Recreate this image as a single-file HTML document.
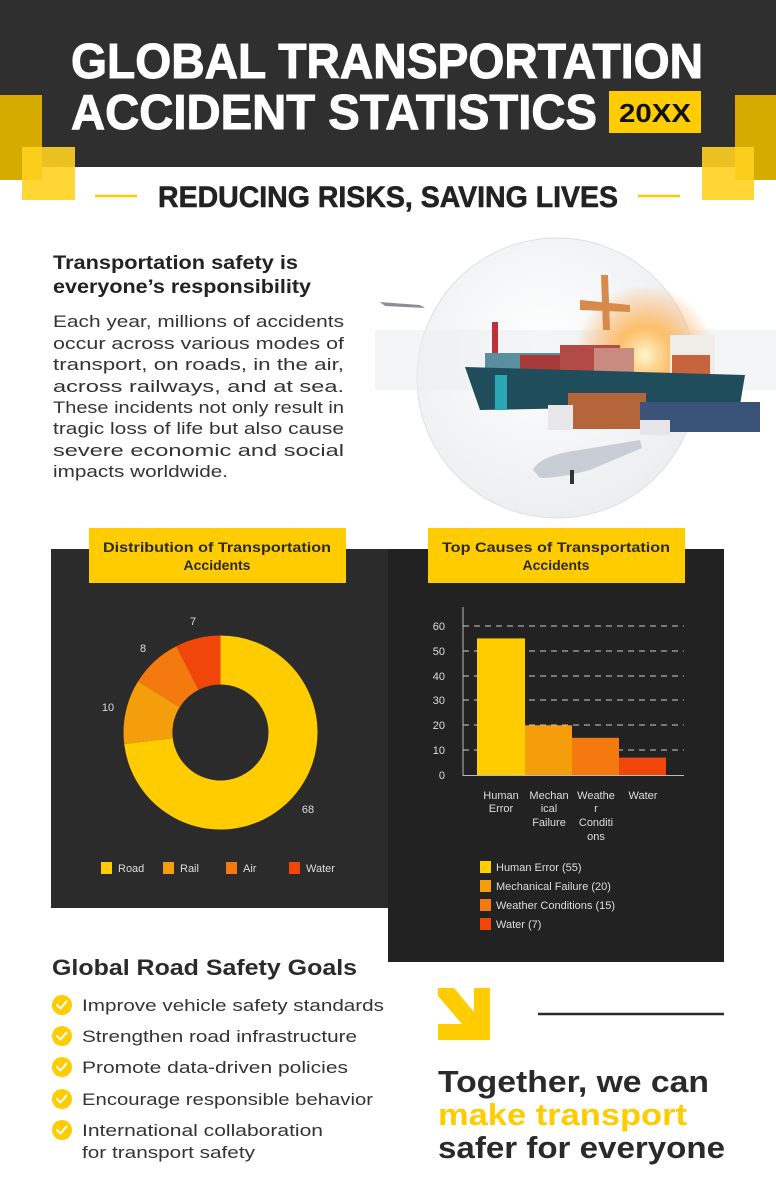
<!DOCTYPE html>
<html><head><meta charset="utf-8"><style>html,body{margin:0;padding:0;background:#fff}svg{display:block}</style></head>
<body>
<svg width="776" height="1200" viewBox="0 0 776 1200" xmlns="http://www.w3.org/2000/svg" font-family="'Liberation Sans', sans-serif">
<defs>
<radialGradient id="glow" cx="0.5" cy="0.5" r="0.5"><stop offset="0" stop-color="#fff6d0"/><stop offset="0.4" stop-color="#ffb347" stop-opacity="0.8"/><stop offset="1" stop-color="#ff9a3c" stop-opacity="0"/></radialGradient>
<radialGradient id="globe" cx="0.45" cy="0.4" r="0.6"><stop offset="0" stop-color="#ffffff"/><stop offset="1" stop-color="#eceef0"/></radialGradient>
</defs>
<rect width="776" height="1200" fill="#fff"/>
<!-- header -->
<rect x="0" y="0" width="776" height="167" fill="#2f2f2f"/>
<rect x="0" y="95" width="42" height="85" fill="#d6ab00"/>
<rect x="22" y="147" width="53" height="53" fill="#ffd21f" opacity="0.9"/>
<rect x="735" y="95" width="41" height="85" fill="#d6ab00"/>
<rect x="702" y="147" width="52" height="53" fill="#ffd21f" opacity="0.9"/>
<text x="71" y="78" font-size="49" font-weight="bold" fill="#fff" stroke="#fff" stroke-width="1" textLength="632" lengthAdjust="spacingAndGlyphs">GLOBAL TRANSPORTATION</text>
<text x="71" y="129" font-size="49" font-weight="bold" fill="#fff" stroke="#fff" stroke-width="1" textLength="526" lengthAdjust="spacingAndGlyphs">ACCIDENT STATISTICS</text>
<rect x="609" y="91" width="92" height="42" fill="#ffcc00"/>
<text x="655" y="122" font-size="26" font-weight="bold" fill="#111" text-anchor="middle" textLength="72" lengthAdjust="spacingAndGlyphs">20XX</text>
<line x1="95" y1="196" x2="137" y2="196" stroke="#ffcc00" stroke-width="2.5"/>
<line x1="638" y1="196" x2="680" y2="196" stroke="#ffcc00" stroke-width="2.5"/>
<text x="158" y="207" font-size="30" font-weight="bold" fill="#222" stroke="#222" stroke-width="0.6" textLength="460" lengthAdjust="spacingAndGlyphs">REDUCING RISKS, SAVING LIVES</text>
<!-- intro -->
<text x="53" y="269" font-size="19" font-weight="bold" fill="#222" textLength="245" lengthAdjust="spacingAndGlyphs">Transportation safety is</text>
<text x="53" y="293" font-size="19" font-weight="bold" fill="#222" textLength="258" lengthAdjust="spacingAndGlyphs">everyone’s responsibility</text>
<g font-size="17" fill="#333">
<text x="53" y="327" textLength="291" lengthAdjust="spacingAndGlyphs">Each year, millions of accidents</text>
<text x="53" y="349" textLength="291" lengthAdjust="spacingAndGlyphs">occur across various modes of</text>
<text x="53" y="370" textLength="291" lengthAdjust="spacingAndGlyphs">transport, on roads, in the air,</text>
<text x="53" y="392" textLength="291" lengthAdjust="spacingAndGlyphs">across railways, and at sea.</text>
<text x="53" y="413" textLength="291" lengthAdjust="spacingAndGlyphs">These incidents not only result in</text>
<text x="53" y="434" textLength="291" lengthAdjust="spacingAndGlyphs">tragic loss of life but also cause</text>
<text x="53" y="456" textLength="291" lengthAdjust="spacingAndGlyphs">severe economic and social</text>
<text x="53" y="477" textLength="175" lengthAdjust="spacingAndGlyphs">impacts worldwide.</text>
</g>
<!-- image -->
<circle cx="557" cy="378" r="140" fill="url(#globe)" stroke="#dde0e3"/>
<rect x="375" y="330" width="401" height="60" fill="#eceef0" opacity="0.6"/>
<circle cx="645" cy="355" r="70" fill="url(#glow)"/>
<rect x="492" y="322" width="6" height="45" fill="#c0303a"/>
<rect x="485" y="353" width="80" height="22" fill="#5a8fa0"/>
<rect x="520" y="355" width="45" height="20" fill="#a83a3a"/>
<rect x="560" y="345" width="60" height="32" fill="#b24a45"/>
<rect x="594" y="348" width="40" height="28" fill="#c98a80"/>
<rect x="670" y="335" width="45" height="45" fill="#f0ece8"/>
<rect x="672" y="355" width="38" height="25" fill="#c8643c"/>
<path d="M465,367 L745,375 L740,405 L480,410 Z" fill="#1f4d5c"/>
<rect x="495" y="375" width="12" height="35" fill="#2aa6b4"/>
<rect x="568" y="393" width="78" height="36" fill="#b5653a"/>
<rect x="548" y="405" width="25" height="25" fill="#e8e8ea"/>
<rect x="640" y="402" width="120" height="30" fill="#3a5378"/>
<rect x="640" y="420" width="30" height="15" fill="#e6e6ea"/>
<path d="M533,470 Q540,455 580,450 L640,440 L642,448 L590,470 Q560,478 540,478 Z" fill="#c9cdd6"/>
<rect x="570" y="470" width="4" height="14" fill="#333"/>
<path d="M601,275 L608,275 L610,330 L603,330 Z M580,300 L630,305 L630,312 L580,310 Z" fill="#d88a4a"/>
<path d="M380,302 L420,305 L425,308 L385,306 Z" fill="#8a8f96"/>
<!-- left panel -->
<rect x="51" y="549" width="337" height="359" fill="#2b2b2b"/>
<rect x="89" y="528" width="257" height="55" fill="#ffcc00"/>
<text x="217" y="552" font-size="14" font-weight="bold" fill="#2a2a2a" text-anchor="middle" textLength="228" lengthAdjust="spacingAndGlyphs">Distribution of Transportation</text>
<text x="217" y="570" font-size="14" font-weight="bold" fill="#2a2a2a" text-anchor="middle">Accidents</text>
<path d="M220.5,635.5 A97,97 0 1 1 124.2,744.0 L172.8,738.2 A48,48 0 1 0 220.5,684.5 Z" fill="#ffcc00"/>
<path d="M124.2,744.0 A97,97 0 0 1 138.1,681.3 L179.7,707.2 A48,48 0 0 0 172.8,738.2 Z" fill="#f59e0b"/>
<path d="M138.1,681.3 A97,97 0 0 1 176.3,646.2 L198.6,689.8 A48,48 0 0 0 179.7,707.2 Z" fill="#f47a10"/>
<path d="M176.3,646.2 A97,97 0 0 1 220.5,635.5 L220.5,684.5 A48,48 0 0 0 198.6,689.8 Z" fill="#f0460a"/>
<g font-size="11" fill="#ddd">
<text x="193" y="625" text-anchor="middle">7</text>
<text x="143" y="652" text-anchor="middle">8</text>
<text x="108" y="711" text-anchor="middle">10</text>
<text x="308" y="813" text-anchor="middle">68</text>
<rect x="101" y="862" width="11" height="12" fill="#ffcc00"/><text x="118" y="872">Road</text>
<rect x="163" y="862" width="11" height="12" fill="#f59e0b"/><text x="180" y="872">Rail</text>
<rect x="226" y="862" width="11" height="12" fill="#f47a10"/><text x="243" y="872">Air</text>
<rect x="289" y="862" width="11" height="12" fill="#f0460a"/><text x="306" y="872">Water</text>
</g>
<!-- right panel -->
<rect x="388" y="549" width="336" height="413" fill="#222"/>
<rect x="428" y="528" width="257" height="55" fill="#ffcc00"/>
<text x="556" y="552" font-size="14" font-weight="bold" fill="#2a2a2a" text-anchor="middle" textLength="228" lengthAdjust="spacingAndGlyphs">Top Causes of Transportation</text>
<text x="556" y="570" font-size="14" font-weight="bold" fill="#2a2a2a" text-anchor="middle">Accidents</text>
<g stroke="#ccc" stroke-dasharray="6,5" stroke-width="1">
<line x1="463" y1="626" x2="684" y2="626"/><line x1="463" y1="651" x2="684" y2="651"/><line x1="463" y1="676" x2="684" y2="676"/><line x1="463" y1="700" x2="684" y2="700"/><line x1="463" y1="725" x2="684" y2="725"/><line x1="463" y1="750" x2="684" y2="750"/>
</g>
<rect x="477" y="638.4" width="48" height="136.6" fill="#ffcc00"/>
<rect x="525" y="725.3" width="47" height="49.7" fill="#f59e0b"/>
<rect x="572" y="737.8" width="47" height="37.2" fill="#f47a10"/>
<rect x="619" y="757.6" width="47" height="17.4" fill="#f0460a"/>
<line x1="463" y1="607" x2="463" y2="776" stroke="#bbb"/>
<line x1="463" y1="775.5" x2="684" y2="775.5" stroke="#bbb"/>
<g font-size="11" fill="#ddd" text-anchor="end">
<text x="445" y="630">60</text><text x="445" y="655">50</text><text x="445" y="680">40</text><text x="445" y="704">30</text><text x="445" y="729">20</text><text x="445" y="754">10</text><text x="445" y="779">0</text>
</g>
<g font-size="11" fill="#ddd" text-anchor="middle">
<text x="501" y="799">Human</text><text x="501" y="812">Error</text>
<text x="549" y="799">Mechan</text><text x="549" y="812">ical</text><text x="549" y="826">Failure</text>
<text x="596" y="799">Weathe</text><text x="596" y="812">r</text><text x="596" y="826">Conditi</text><text x="596" y="840">ons</text>
<text x="643" y="799">Water</text>
</g>
<g font-size="11" fill="#ddd">
<rect x="480" y="861" width="11" height="12" fill="#ffcc00"/><text x="496" y="871">Human Error (55)</text>
<rect x="480" y="880" width="11" height="12" fill="#f59e0b"/><text x="496" y="890">Mechanical Failure (20)</text>
<rect x="480" y="899" width="11" height="12" fill="#f47a10"/><text x="496" y="909">Weather Conditions (15)</text>
<rect x="480" y="918" width="11" height="12" fill="#f0460a"/><text x="496" y="928">Water (7)</text>
</g>
<!-- goals -->
<text x="52" y="975" font-size="22" font-weight="bold" fill="#2a2a2a" textLength="305" lengthAdjust="spacingAndGlyphs">Global Road Safety Goals</text>
<g fill="#ffcc00">
<circle cx="62" cy="1005" r="10"/><circle cx="62" cy="1036" r="10"/><circle cx="62" cy="1067" r="10"/><circle cx="62" cy="1099" r="10"/><circle cx="62" cy="1130" r="10"/>
</g>
<g fill="none" stroke="#fff" stroke-width="2" stroke-linecap="round" stroke-linejoin="round">
<path d="M57,1005 l3.5,3.5 l6,-7"/><path d="M57,1036 l3.5,3.5 l6,-7"/><path d="M57,1067 l3.5,3.5 l6,-7"/><path d="M57,1099 l3.5,3.5 l6,-7"/><path d="M57,1130 l3.5,3.5 l6,-7"/>
</g>
<g font-size="17" fill="#333">
<text x="82" y="1011" textLength="302" lengthAdjust="spacingAndGlyphs">Improve vehicle safety standards</text>
<text x="82" y="1042" textLength="275" lengthAdjust="spacingAndGlyphs">Strengthen road infrastructure</text>
<text x="82" y="1073" textLength="266" lengthAdjust="spacingAndGlyphs">Promote data-driven policies</text>
<text x="82" y="1105" textLength="291" lengthAdjust="spacingAndGlyphs">Encourage responsible behavior</text>
<text x="82" y="1136" textLength="241" lengthAdjust="spacingAndGlyphs">International collaboration</text>
<text x="82" y="1158" textLength="173" lengthAdjust="spacingAndGlyphs">for transport safety</text>
</g>
<!-- arrow -->
<path d="M438,988 L454,988 L474,1012 L474,988 L490,988 L490,1040 L438,1040 L438,1024 L462,1024 L438,996 Z" fill="#ffcc00"/>
<line x1="538" y1="1014" x2="724" y2="1014" stroke="#2a2a2a" stroke-width="2.5"/>
<text x="438" y="1092" font-size="31" font-weight="bold" fill="#2a2a2a" textLength="271" lengthAdjust="spacingAndGlyphs">Together, we can</text>
<text x="438" y="1125" font-size="31" font-weight="bold" fill="#ffcc00" textLength="249" lengthAdjust="spacingAndGlyphs">make transport</text>
<text x="438" y="1158" font-size="31" font-weight="bold" fill="#2a2a2a" textLength="287" lengthAdjust="spacingAndGlyphs">safer for everyone</text>
</svg>
</body></html>
